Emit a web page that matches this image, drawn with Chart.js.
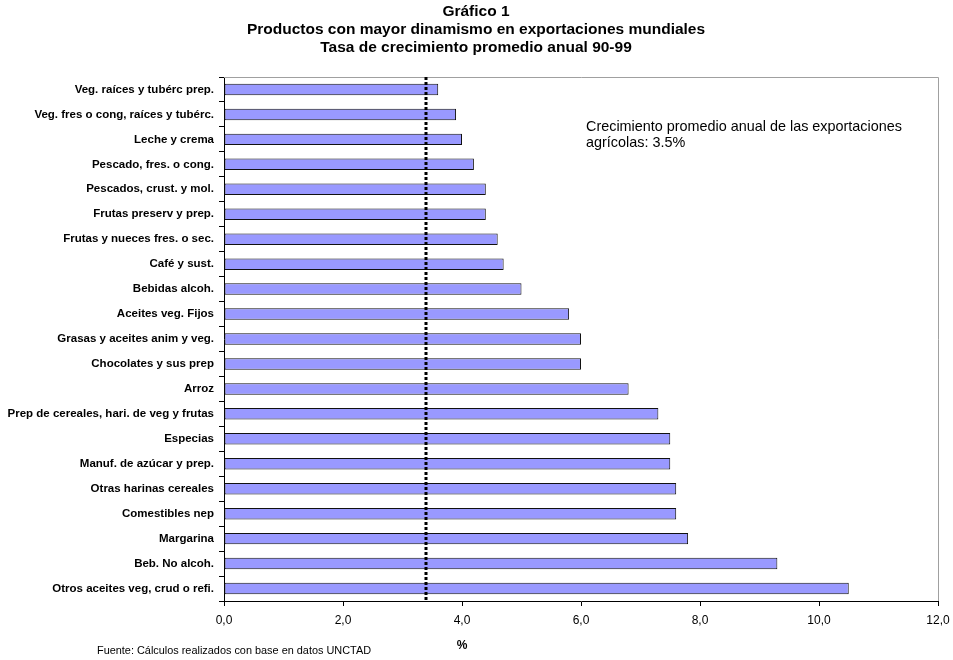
<!DOCTYPE html>
<html>
<head>
<meta charset="utf-8">
<script src="https://cdn.jsdelivr.net/npm/chart.js@4/dist/chart.umd.min.js"></script>
<style>
  html, body { margin: 0; padding: 0; background: #fff; }
  #wrap { width: 953px; height: 660px; position: relative; }
</style>
</head>
<body>
<div id="wrap"><canvas id="c" width="953" height="660"></canvas></div>
<script>
// Products (top to bottom) and their average annual growth rate 1990-99, %
const categories = [
  'Veg. raíces y tubérc prep.',
  'Veg. fres o cong, raíces y tubérc.',
  'Leche y crema',
  'Pescado, fres. o cong.',
  'Pescados, crust. y mol.',
  'Frutas preserv y prep.',
  'Frutas y nueces fres. o sec.',
  'Café y sust.',
  'Bebidas alcoh.',
  'Aceites veg. Fijos',
  'Grasas y aceites anim y veg.',
  'Chocolates y sus prep',
  'Arroz',
  'Prep de cereales, hari. de veg y frutas',
  'Especias',
  'Manuf. de azúcar y prep.',
  'Otras harinas cereales',
  'Comestibles nep',
  'Margarina',
  'Beb. No alcoh.',
  'Otros aceites veg, crud o refi.'
];
const growthRates = [3.6, 3.9, 4.0, 4.2, 4.4, 4.4, 4.6, 4.7, 5.0, 5.8, 6.0, 6.0, 6.8, 7.3, 7.5, 7.5, 7.6, 7.6, 7.8, 9.3, 10.5];

// Reference line: average growth of agricultural exports
const referenceLine = 3.4;

const xTicks = [0, 2, 4, 6, 8, 10, 12];

const titleLines = [
  'Gráfico 1',
  'Productos con mayor dinamismo en exportaciones mundiales',
  'Tasa de crecimiento promedio anual 90-99'
];
const noteLines = [
  'Crecimiento promedio anual de las exportaciones',
  'agrícolas: 3.5%'
];
const axisTitle = '%';
const sourceText = 'Fuente: Cálculos realizados con base en datos UNCTAD';

const FONT = '"Liberation Sans", Arial, Helvetica, sans-serif';

// Frame, dotted reference line and free text
const decorations = {
  id: 'decorations',
  beforeDatasetsDraw(chart) {
    const { ctx, chartArea: a } = chart;
    ctx.save();
    ctx.strokeStyle = '#a0a0a0';
    ctx.lineWidth = 1;
    ctx.beginPath();
    ctx.moveTo(a.left, a.top + 0.5);
    ctx.lineTo(a.right + 0.5, a.top + 0.5);
    ctx.lineTo(a.right + 0.5, a.bottom);
    ctx.stroke();
    ctx.restore();
  },
  afterDatasetsDraw(chart) {
    const { ctx, chartArea: a, scales } = chart;
    const x = Math.round(scales.x.getPixelForValue(referenceLine));
    ctx.save();
    ctx.strokeStyle = '#000';
    ctx.lineWidth = 3;
    ctx.setLineDash([3, 2]);
    ctx.beginPath();
    ctx.moveTo(x, a.top);
    ctx.lineTo(x, a.bottom);
    ctx.stroke();
    ctx.restore();
  },
  afterDraw(chart) {
    const { ctx, scales } = chart;
    ctx.save();
    ctx.fillStyle = '#000';
    ctx.textBaseline = 'middle';
    ctx.textAlign = 'center';
    ctx.font = 'bold 15.5px ' + FONT;
    titleLines.forEach((t, i) => ctx.fillText(t, 476, 12 + i * 18));

    ctx.textAlign = 'left';
    ctx.font = '14.4px ' + FONT;
    noteLines.forEach((t, i) => ctx.fillText(t, 586, 127 + i * 16));

    ctx.textAlign = 'center';
    ctx.font = 'bold 12px ' + FONT;
    ctx.fillText(axisTitle, scales.x.getPixelForValue(4), 646);

    ctx.textAlign = 'left';
    ctx.font = '10.9px ' + FONT;
    ctx.fillText(sourceText, 97, 651);
    ctx.restore();
  }
};

new Chart(document.getElementById('c'), {
  type: 'bar',
  data: {
    labels: categories,
    datasets: [{
      data: growthRates,
      backgroundColor: '#9999ff',
      borderColor: '#111',
      borderWidth: 1,
      borderSkipped: false,
      barPercentage: 0.46,
      categoryPercentage: 1
    }]
  },
  options: {
    indexAxis: 'y',
    responsive: false,
    animation: false,
    devicePixelRatio: 1,
    layout: { padding: { top: 77, right: 15, left: 0, bottom: 0 } },
    plugins: {
      legend: { display: false },
      tooltip: { enabled: false },
      title: { display: false }
    },
    scales: {
      x: {
        type: 'linear',
        min: 0,
        max: 12,
        afterBuildTicks(scale) { scale.ticks = xTicks.map(v => ({ value: v })); },
        afterFit(scale) {
          scale.height = 59;
          scale.paddingRight = 0;
        },
        border: { color: '#000', width: 1 },
        grid: { drawOnChartArea: false, drawTicks: true, tickLength: 5, color: '#000' },
        ticks: {
          color: '#000',
          padding: 7,
          font: { family: FONT, size: 12 },
          callback: v => v.toFixed(1).replace('.', ',')
        }
      },
      y: {
        afterFit(scale) { scale.width = 224; },
        border: { color: '#000', width: 1 },
        grid: { offset: true, drawOnChartArea: false, drawTicks: true, tickLength: 5, color: '#000' },
        ticks: {
          color: '#000',
          padding: 5,
          autoSkip: false,
          font: { family: FONT, size: 11.5, weight: 'bold' }
        }
      }
    }
  },
  plugins: [decorations]
});
</script>
</body>
</html>
